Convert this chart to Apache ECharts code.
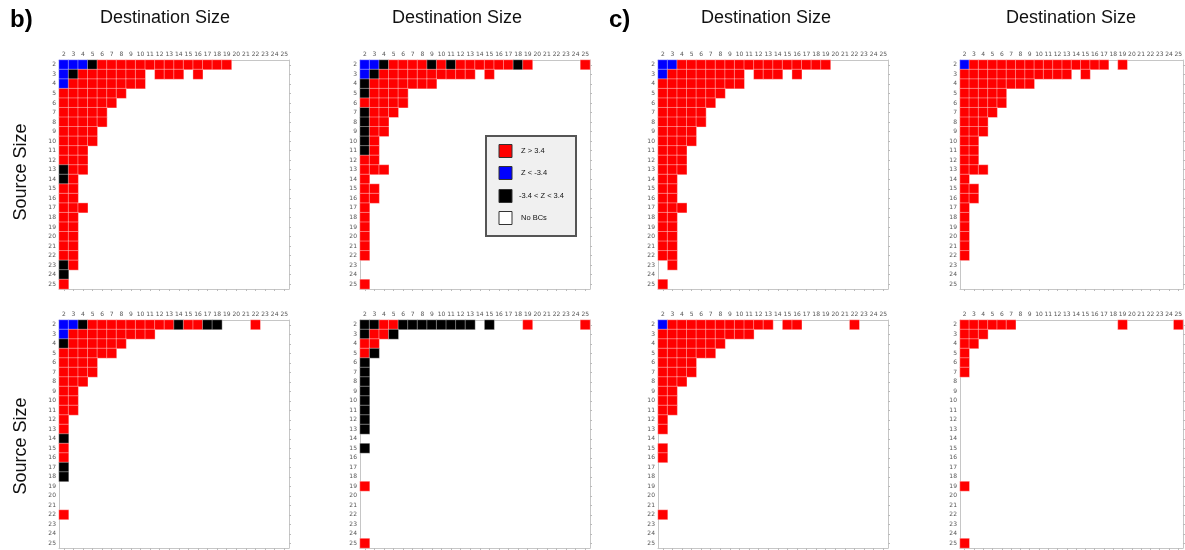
<!DOCTYPE html>
<html>
<head>
<meta charset="utf-8">
<script src="https://cdn.jsdelivr.net/npm/echarts@6/dist/echarts.min.js"></script>
<style>
  html, body { margin: 0; padding: 0; background: #ffffff; }
  #chart { width: 1185px; height: 550px; }
</style>
</head>
<body>
<div id="chart"></div>
<script>
// Source / destination sizes shown on both axes of every panel.
const sizes = ['2','3','4','5','6','7','8','9','10','11','12','13','14','15','16','17','18','19','20','21','22','23','24','25'];

//   R = Z > 3.4, B = Z < -3.4, K = -3.4 < Z < 3.4, '.' or missing = no BCs.
const panelB1 = [
  'BBBKRRRRRRRRRRRRRR', 'BKRRRRRRR.RRR.R', 'BRRRRRRRR', 'RRRRRRR', 'RRRRRR', 'RRRRR',
  'RRRRR', 'RRRR', 'RRRR', 'RRR', 'RRR', 'KRR', 'KR', 'RR', 'RR', 'RRR', 'RR', 'RR',
  'RR', 'RR', 'RR', 'KR', 'K', 'R'
];
const panelB2 = [
  'BBKRRRRKRKRRRRRRKR.....R', 'BKRRRRRRRRRR.R', 'KRRRRRRR', 'KRRRR', 'RRRRR', 'KRRR',
  'KRR', 'KRR', 'KR', 'KR', 'RR', 'RRR', 'R', 'RR', 'RR', 'R', 'R', 'R',
  'R', 'R', 'R', '', '', 'R'
];
const panelB3 = [
  'BBKRRRRRRRRRKRRKK...R', 'BRRRRRRRRR', 'KRRRRRR', 'RRRRRR', 'RRRR', 'RRRR',
  'RRR', 'RR', 'RR', 'RR', 'R', 'R', 'K', 'R', 'R', 'K', 'K', '',
  '', '', 'R', '', '', ''
];
const panelB4 = [
  'KKRRKKKKKKKK.K...R.....R', 'KRRK', 'RR', 'RK', 'K', 'K', 'K', 'K',
  'K', 'K', 'K', 'K', '', 'K', '', '', '', 'R',
  '', '', '', '', '', 'R'
];
const panelC1 = [
  'BBRRRRRRRRRRRRRRRR', 'BRRRRRRRR.RRR.R', 'RRRRRRRRR', 'RRRRRRR', 'RRRRRR', 'RRRRR',
  'RRRRR', 'RRRR', 'RRRR', 'RRR', 'RRR', 'RRR', 'RR', 'RR', 'RR', 'RRR', 'RR', 'RR',
  'RR', 'RR', 'RR', '.R', '', 'R'
];
const panelC2 = [
  'BRRRRRRRRRRRRRRR.R', 'RRRRRRRRRRRR.R', 'RRRRRRRR', 'RRRRR', 'RRRRR', 'RRRR',
  'RRR', 'RRR', 'RR', 'RR', 'RR', 'RRR', 'R', 'RR', 'RR', 'R', 'R', 'R',
  'R', 'R', 'R', '', '', ''
];
const panelC3 = [
  'BRRRRRRRRRRR.RR.....R', 'RRRRRRRRRR', 'RRRRRRR', 'RRRRRR', 'RRRR', 'RRRR',
  'RRR', 'RR', 'RR', 'RR', 'R', 'R', '', 'R', 'R', '', '', '',
  '', '', 'R', '', '', ''
];
const panelC4 = [
  'RRRRRR...........R.....R', 'RRR', 'RR', 'R', 'R', 'R', '', '',
  '', '', '', '', '', '', '', '', '', 'R',
  '', '', '', '', '', 'R'
];

// Panel order: top row left to right, then bottom row left to right.
const panels = [panelB1, panelB2, panelC1, panelC2, panelB3, panelB4, panelC3, panelC4];

const codeOf = { R: 1, B: 2, K: 3 };
const classColors = { 1: '#ff0000', 2: '#0000ff', 3: '#000000' };

// Pixel frames of the eight plotting areas.
const colLeft = [59, 360, 658, 960];
const rowTop = [60, 320];
const cellBox = 230;

function toCells(rows) {
  const out = [];
  rows.forEach((row, y) => {
    for (let x = 0; x < row.length; x++) {
      const c = codeOf[row[x]];
      if (c) out.push([x, y, c]);
    }
  });
  return out;
}

const grids = [], xAxes = [], yAxes = [], series = [];
const axisColor = '#c6c6c6';
const labelStyle = { fontSize: 6, color: '#555', fontFamily: 'DejaVu Sans', interval: 0, margin: 3 };

panels.forEach((rows, i) => {
  grids.push({
    left: colLeft[i % 4], top: rowTop[Math.floor(i / 4)],
    width: cellBox, height: i < 4 ? 229 : 228
  });
  // labelled top / left axes
  xAxes.push({
    gridIndex: i, type: 'category', data: sizes, position: 'top',
    axisLine: { lineStyle: { color: axisColor, width: 1 } },
    axisTick: { show: false }, axisLabel: labelStyle, splitLine: { show: false }
  });
  yAxes.push({
    gridIndex: i, type: 'category', data: sizes, inverse: true, position: 'left',
    axisLine: { lineStyle: { color: axisColor, width: 1 } },
    axisTick: { show: false }, axisLabel: labelStyle, splitLine: { show: false }
  });
  // tick-only bottom / right axes closing the frame
  xAxes.push({
    gridIndex: i, type: 'category', data: sizes, position: 'bottom',
    axisLine: { lineStyle: { color: axisColor, width: 1 } },
    axisTick: { show: true, alignWithLabel: true, length: 2, interval: 0, lineStyle: { color: '#bbbbbb' } },
    axisLabel: { show: false }, splitLine: { show: false }
  });
  yAxes.push({
    gridIndex: i, type: 'category', data: sizes, inverse: true, position: 'right',
    axisLine: { lineStyle: { color: axisColor, width: 1 } },
    axisTick: { show: true, alignWithLabel: true, length: 2, interval: 0, lineStyle: { color: '#bbbbbb' } },
    axisLabel: { show: false }, splitLine: { show: false }
  });
  series.push({
    type: 'heatmap',
    xAxisIndex: 2 * i, yAxisIndex: 2 * i,
    data: toCells(rows),
    itemStyle: { borderColor: 'rgba(255,255,255,0.38)', borderWidth: 1 },
    emphasis: { disabled: true },
    silent: true
  });
});

const titleFont = { fontFamily: 'Liberation Sans', fontSize: 18, fill: '#111' };
const headers = [
  { x: 165, y: 18, text: 'Destination Size' },
  { x: 457, y: 18, text: 'Destination Size' },
  { x: 766, y: 18, text: 'Destination Size' },
  { x: 1071, y: 18, text: 'Destination Size' }
];
const graphic = [];
headers.forEach(h => graphic.push({
  type: 'text', x: h.x, y: h.y,
  style: Object.assign({ text: h.text, align: 'center', verticalAlign: 'middle' }, titleFont)
}));
[{ y: 172 }, { y: 446 }].forEach(s => graphic.push({
  type: 'text', x: 21, y: s.y, rotation: Math.PI / 2,
  style: Object.assign({ text: 'Source Size', align: 'center', verticalAlign: 'middle' }, titleFont)
}));
graphic.push({
  type: 'text', x: 10, y: 20,
  style: { text: 'b)', fontFamily: 'Liberation Sans', fontWeight: 'bold', fontSize: 24, fill: '#000', verticalAlign: 'middle' }
});
graphic.push({
  type: 'text', x: 609, y: 20,
  style: { text: 'c)', fontFamily: 'Liberation Sans', fontWeight: 'bold', fontSize: 24, fill: '#000', verticalAlign: 'middle' }
});

// Key box for the three Z classes plus empty cells.
const keyItems = [
  { label: 'Z > 3.4', color: classColors[1] },
  { label: 'Z < -3.4', color: classColors[2] },
  { label: '-3.4 < Z < 3.4', color: classColors[3] },
  { label: 'No BCs', color: '#ffffff' }
];
const keyChildren = [{
  type: 'rect', shape: { x: 0, y: 0, width: 90, height: 100 },
  style: { fill: '#f0f0f0', stroke: '#555555', lineWidth: 2 }
}];
const keyRowY = [15, 37, 60, 82];
keyItems.forEach((k, j) => {
  keyChildren.push({
    type: 'rect', shape: { x: 13, y: keyRowY[j] - 6.5, width: 13, height: 13 },
    style: { fill: k.color, stroke: '#333333', lineWidth: 1 }
  });
  keyChildren.push({
    type: 'text', x: j === 2 ? 33 : 35, y: keyRowY[j],
    style: { text: k.label, fontFamily: 'Liberation Sans', fontSize: 7.5, fill: '#111', verticalAlign: 'middle' }
  });
});
graphic.push({ type: 'group', x: 486, y: 136, children: keyChildren });

const chart = echarts.init(document.getElementById('chart'), null, { renderer: 'canvas' });
chart.setOption({
  animation: false,
  backgroundColor: '#ffffff',
  grid: grids,
  xAxis: xAxes,
  yAxis: yAxes,
  visualMap: {
    type: 'piecewise', show: false, dimension: 2,
    seriesIndex: series.map((s, i) => i),
    pieces: [
      { value: 1, color: classColors[1] },
      { value: 2, color: classColors[2] },
      { value: 3, color: classColors[3] }
    ]
  },
  series: series,
  graphic: graphic
});
</script>
</body>
</html>
